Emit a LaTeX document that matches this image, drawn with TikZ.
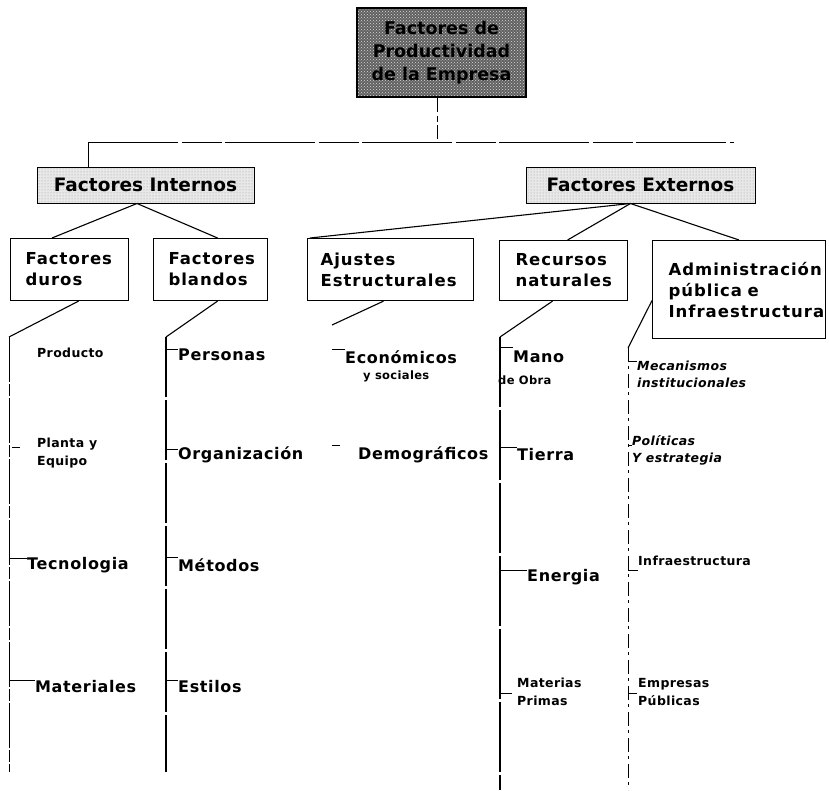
\documentclass[tikz,border=0pt]{standalone}
\usepackage{fontspec}
\setmainfont{DejaVu Sans}
\newfontfamily\boxf{DejaVu Sans}[LetterSpace=6]
\newfontfamily\lblf{DejaVu Sans}[LetterSpace=4]
\newfontfamily\smf{DejaVu Sans}[LetterSpace=3]
\usetikzlibrary{patterns}
\tikzset{
  titlebox/.style={draw, line width=1.2pt, preaction={fill=black!62}, pattern=crosshatch dots, pattern color=white!85!black,
     minimum width=169pt, minimum height=89pt, inner sep=0pt, align=center,
     font=\bfseries\fontsize{17.5}{23}\selectfont},
  groupbox/.style={draw, line width=1pt, preaction={fill=gray!18}, pattern=dots, pattern color=gray!80,
     minimum height=36pt, inner sep=0pt, font=\bfseries\fontsize{18.5}{22}\selectfont},
  catbox/.style={draw, line width=1.1pt, inner ysep=0pt, align=left, anchor=north west,
     font=\boxf\bfseries\fontsize{16.5}{21}\selectfont},
  big/.style={anchor=west, inner sep=0pt, font=\lblf\bfseries\fontsize{16}{18}\selectfont},
  small/.style={anchor=west, inner sep=0pt, align=left, font=\smf\bfseries\fontsize{12.5}{18}\selectfont},
  smallit/.style={small, font=\smf\bfseries\itshape\fontsize{12.5}{17}\selectfont},
  link/.style={line width=1.1pt},
  tick/.style={line width=0.9pt},
  colA/.style={line width=0.9pt, dash pattern=on 45pt off 2pt on 12pt off 2pt},
  colB/.style={line width=1.3pt, dash pattern=on 60pt off 3pt},
  colD/.style={line width=1.6pt, dash pattern=on 70pt off 3pt},
  colE/.style={line width=0.9pt, dash pattern=on 14pt off 4pt on 3pt off 5pt},
}
\begin{document}
\begin{tikzpicture}[x=1pt,y=-1pt]
\useasboundingbox (0,0) rectangle (829,790);

% title
\node[titlebox] (title) at (441.5,52.5) {Factores de\\Productividad\\de la Empresa};

% group boxes
\node[groupbox, minimum width=217pt] (fi) at (145.5,185) {Factores Internos};
\node[groupbox, minimum width=229pt] (fe) at (640.5,185) {Factores Externos};

% top connectors
\coordinate (tj) at (437,142);
\coordinate (hl) at (88,142);
\coordinate (hr) at (734,142);
\draw[line width=1pt, dash pattern=on 14pt off 4pt on 6pt off 3pt] (tj |- title.south) -- (tj);
\draw[line width=1pt, dash pattern=on 90pt off 4pt on 40pt off 3pt] (hl) -- (hr);
\draw[line width=1pt] (hl) -- (hl |- fi.north);

% category boxes
\node[catbox, text width=88pt, inner xsep=15pt, minimum height=62pt] (fd) at (10,238) {Factores\\duros};
\node[catbox, text width=84pt, inner xsep=15pt, minimum height=62pt] (fb) at (153,238) {Factores\\blandos};
\node[catbox, text width=140pt, inner xsep=13pt, minimum height=62pt] (ae) at (307,238) {Ajustes\\Estructurales};
\node[catbox, text width=96pt, inner xsep=16pt, minimum height=60pt] (rn) at (499,240) {Recursos\\naturales};
\node[catbox, text width=141pt, inner xsep=16pt, minimum height=98pt] (ap) at (652,240) {Administración\\pública e\\Infraestructura};

% group -> category
\draw[link] ([xshift=-8.5pt]fi.south) -- ([xshift=42pt]fd.north west);
\draw[link] ([xshift=-8.5pt]fi.south) -- ([xshift=7pt]fb.north);
\draw[link] ([xshift=-10pt]fe.south) -- ([xshift=3pt]ae.north west);
\draw[link] ([xshift=-10pt]fe.south) -- ([xshift=4pt]rn.north);
\draw[link] ([xshift=-10pt]fe.south) -- (ap.north);

% column tops and bottoms
\coordinate (c1t) at (9,337);   \coordinate (c1b) at (9,772);
\coordinate (c2t) at (166,337); \coordinate (c2b) at (166,772);
\coordinate (c3t) at (332,325);
\coordinate (c4t) at (500,337); \coordinate (c4b) at (500,790);
\coordinate (c5t) at (628,348); \coordinate (c5b) at (628,790);

\draw[link] ([xshift=9pt]fd.south) -- (c1t);
\draw[link] ([xshift=7pt]fb.south) -- (c2t);
\draw[link] ([xshift=-7pt]ae.south) -- (c3t);
\draw[link] ([xshift=-11pt]rn.south) -- (c4t);
\draw[link] ([yshift=-11pt]ap.west) -- (c5t);

\draw[colA] (c1t) -- (c1b);
\draw[colB] (c2t) -- (c2b);
\draw[colD] (c4t) -- (c4b);
\draw[colE] (c5t) -- (c5b);

% column 1
\node[small] (pro) at (37,353) {Producto};
\node[small] (pla) at (37,453) {Planta y\\Equipo};
\node[big] (tec) at (27,565) {Tecnologia};
\node[big] (mat) at (35,687) {Materiales};
\coordinate (k12) at (12,447); \draw[tick] (k12) -- ([xshift=-17pt]k12 -| pla.west);
\coordinate (k13) at (9,558);  \draw[tick] (k13) -- (k13 -| tec.west);
\coordinate (k14) at (9,680);  \draw[tick] (k14) -- (k14 -| mat.west);

% column 2
\node[big] (per) at (178,355) {Personas};
\node[big] (org) at (178,455) {Organización};
\node[big] (met) at (178,565) {Métodos};
\node[big] (est) at (178,687) {Estilos};
\coordinate (k21) at (166,349); \draw[tick] (k21) -- (k21 -| per.west);
\coordinate (k22) at (166,449); \draw[tick] (k22) -- (k22 -| org.west);
\coordinate (k23) at (166,557); \draw[tick] (k23) -- (k23 -| met.west);
\coordinate (k24) at (166,680); \draw[tick] (k24) -- (k24 -| est.west);

% column 3
\node[big] (eco) at (345,357) {Económicos};
\node[small, font=\smf\bfseries\fontsize{11.5}{14}\selectfont] (soc) at (363,376) {y sociales};
\node[big] (dem) at (358,455) {Demográficos};
\coordinate (k31) at (332,349); \draw[tick] (k31) -- (k31 -| eco.west);
\coordinate (k32) at (332,445); \draw[tick] (k32) -- ([xshift=-18pt]k32 -| dem.west);

% column 4
\node[big] (man) at (513,357) {Mano};
\node[small, font=\smf\bfseries\fontsize{11.5}{14}\selectfont] (obr) at (498,380) {de Obra};
\node[big] (tie) at (517,455) {Tierra};
\node[big] (ene) at (527,577) {Energia};
\node[small] (mpr) at (517,692) {Materias\\Primas};
\coordinate (k41) at (500,347); \draw[tick] (k41) -- (k41 -| man.west);
\coordinate (k42) at (500,447); \draw[tick] (k42) -- (k42 -| tie.west);
\coordinate (k43) at (500,570); \draw[tick] (k43) -- (k43 -| ene.west);
\coordinate (k44) at (500,693); \draw[tick] (k44) -- ([xshift=-5pt]k44 -| mpr.west);

% column 5
\node[smallit] (mec) at (637,374) {Mecanismos\\institucionales};
\node[smallit] (pol) at (632,450) {Políticas\\Y estrategia};
\node[small] (inf) at (638,561) {Infraestructura};
\node[small] (emp) at (638,692) {Empresas\\Públicas};
\coordinate (k51) at (628,361); \draw[tick] (k51) -- (k51 -| mec.west);
\coordinate (k52) at (628,445); \draw[tick] (k52) -- (k52 -| pol.west);
\coordinate (k53) at (628,570); \draw[tick] (k53) -- (k53 -| inf.west);
\coordinate (k54) at (628,693); \draw[tick] (k54) -- ([xshift=-1pt]k54 -| emp.west);
\end{tikzpicture}
\end{document}
